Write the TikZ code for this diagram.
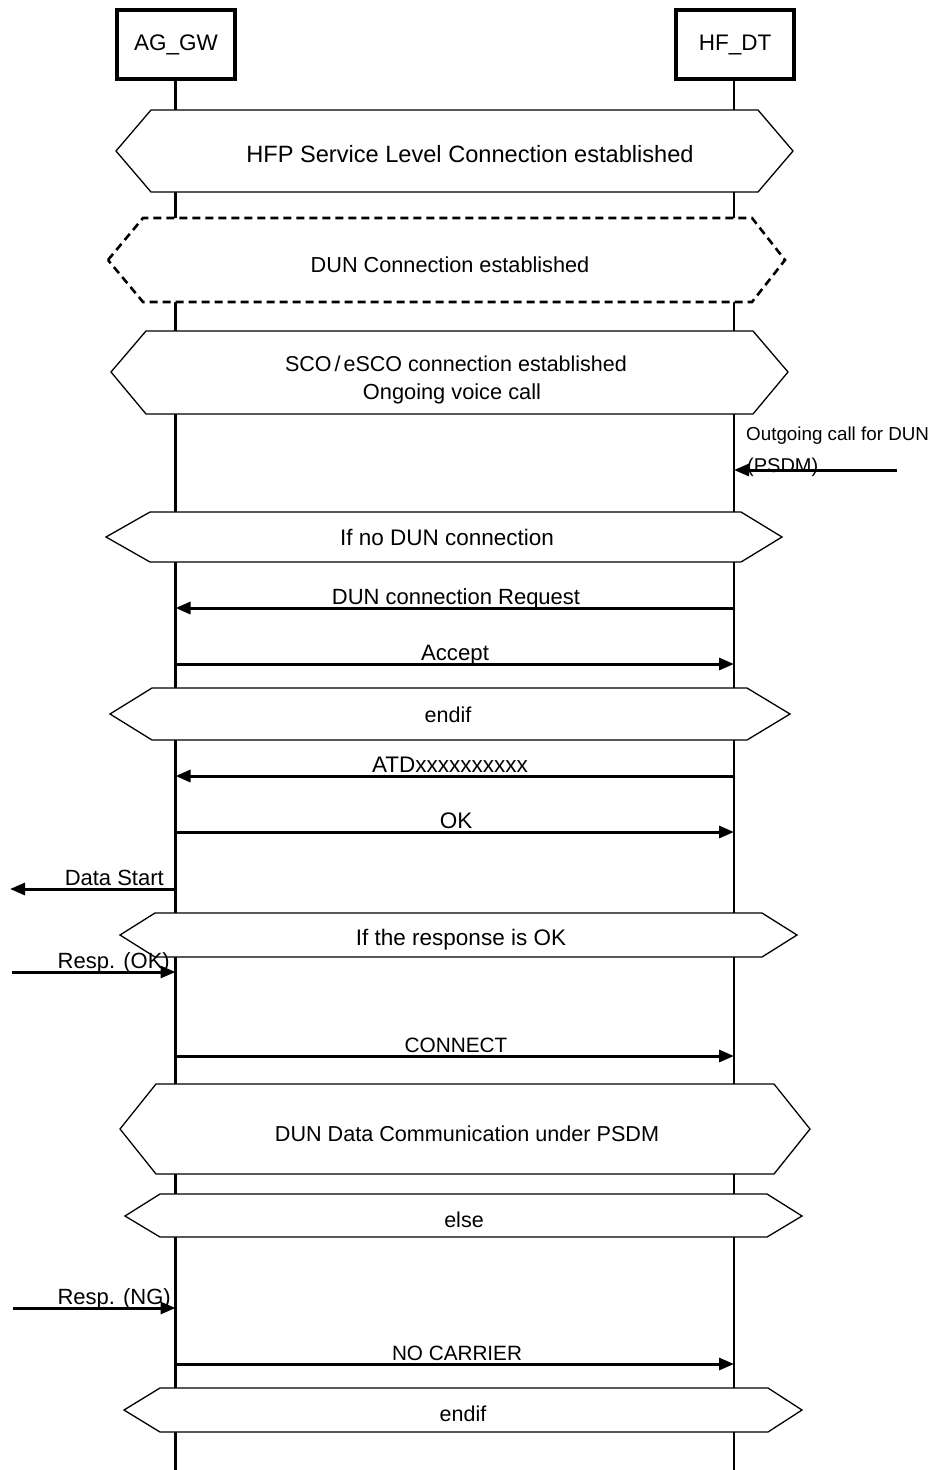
\documentclass[tikz,border=0pt]{standalone}
\usepackage{fontspec}
\setmainfont{Liberation Sans}
\usetikzlibrary{arrows.meta}
\newcommand\fsz[1]{\fontsize{#1}{#1}\selectfont}
\begin{document}
\begin{tikzpicture}[x=1pt,y=-1pt,
  actor/.style={draw,line width=4pt,minimum width=118pt,minimum height=69pt,inner sep=0pt,font=\fsz{22.5}},
  life/.style={line width=2.6pt},
  hexa/.style={draw,line width=1.3pt,fill=white,line join=miter},
  dhexa/.style={draw,line width=2.6pt,fill=white,dash pattern=on 8pt off 5pt},
  msg/.style={line width=3pt,-{Triangle[length=15pt,width=12pt]}},
  lbl/.style={anchor=base,font=\fsz{22.5},inner sep=0pt},
  slbl/.style={anchor=base west,font=\fsz{18.8},inner sep=0pt},
  rlbl/.style={anchor=base east,font=\fsz{22},inner sep=0pt}
]
\useasboundingbox (0,0) rectangle (933,1470);
% actors
\node[actor] (ag) at (176,44.5) {AG\_GW};
\node[actor] (hf) at (735,44.5) {HF\_DT};
\coordinate (agend) at (175.5,1470);
\coordinate (hfend) at (734,1470);
\draw[life] (ag.south) ++(-0.5,0) -- (agend);
\draw[life] (hf.south) ++(-1,0) -- (hfend);

% hexagons
\draw[hexa] (116,151) -- (151,110) -- (758,110) -- (793,151) -- (758,192) -- (151,192) -- cycle;
\node[lbl,font=\fsz{23.6}] (t1) at (470,162) {HFP Service Level Connection established};

\draw[dhexa] (108,260) -- (143,218) -- (752,218) -- (785,260) -- (752,302) -- (143,302) -- cycle;
\node[lbl,font=\fsz{21.7}] (t2) at (450,272) {DUN Connection established};

\draw[hexa] (111,372) -- (146,331) -- (753,331) -- (788,372) -- (753,414) -- (146,414) -- cycle;
\node[lbl,font=\fsz{21.5}] (t3a) at (456,371) {SCO\kern3pt/\kern3pt eSCO connection established};
\node[lbl,font=\fsz{21.8}] (t3b) at (452,399) {Ongoing voice call};

% outgoing call
\coordinate (ext1) at (897,470);
\coordinate (hf1) at (734,470);
\draw[msg] (ext1) -- (hf1);
\node[slbl] (o1) at (746,440) {Outgoing call for DUN};
\node[slbl,font=\fsz{20}] (o2) at (747,472) {(PSDM)};

\draw[hexa] (106,537) -- (150,512) -- (741,512) -- (782,537) -- (741,562) -- (150,562) -- cycle;
\node[lbl] (t4) at (447,545) {If no DUN connection};

\coordinate (hf2) at (734,608); \coordinate (ag2) at (175.5,608);
\draw[msg] (hf2) -- (ag2);
\node[lbl,font=\fsz{22}] (m2) at (456,604) {DUN connection Request};

\coordinate (ag3) at (175.5,664); \coordinate (hf3) at (734,664);
\draw[msg] (ag3) -- (hf3);
\node[lbl,font=\fsz{22.2}] (m3) at (455,660) {Accept};

\draw[hexa] (110,714) -- (152,688) -- (747,688) -- (790,714) -- (747,740) -- (152,740) -- cycle;
\node[lbl,font=\fsz{21.5}] (t5) at (448,722) {endif};

\coordinate (hf4) at (734,776); \coordinate (ag4) at (175.5,776);
\draw[msg] (hf4) -- (ag4);
\node[lbl] (m4) at (450,772) {ATDxxxxxxxxxx};

\coordinate (ag5) at (175.5,832); \coordinate (hf5) at (734,832);
\draw[msg] (ag5) -- (hf5);
\node[lbl] (m5) at (456,828) {OK};

\coordinate (ag6) at (175.5,889); \coordinate (ext6) at (10,889);
\draw[msg] (ag6) -- (ext6);
\node[rlbl] (m6) at (164,885.5) {Data Start};

\draw[hexa] (120,935) -- (155,913) -- (762,913) -- (797,935) -- (762,957) -- (155,957) -- cycle;
\node[lbl] (t6) at (461,945) {If the response is OK};

\coordinate (ext7) at (12,972); \coordinate (ag7) at (175.5,972);
\draw[msg] (ext7) -- (ag7);
\node[rlbl] (m7) at (170,968) {Resp. (OK)};

\coordinate (ag8) at (175.5,1056); \coordinate (hf8) at (734,1056);
\draw[msg] (ag8) -- (hf8);
\node[lbl,font=\fsz{20.8}] (m8) at (456,1052) {CONNECT};

\draw[hexa] (120,1129) -- (156,1084) -- (774,1084) -- (810,1129) -- (774,1174) -- (156,1174) -- cycle;
\node[lbl,font=\fsz{21.6}] (t7) at (467,1141) {DUN Data Communication under PSDM};

\draw[hexa] (125,1216) -- (160,1194) -- (767,1194) -- (802,1216) -- (767,1237) -- (160,1237) -- cycle;
\node[lbl,font=\fsz{21.5}] (t8) at (464,1227) {else};

\coordinate (ext9) at (13,1308); \coordinate (ag9) at (175.5,1308);
\draw[msg] (ext9) -- (ag9);
\node[rlbl] (m9) at (171,1304) {Resp. (NG)};

\coordinate (ag10) at (175.5,1364); \coordinate (hf10) at (734,1364);
\draw[msg] (ag10) -- (hf10);
\node[lbl,font=\fsz{20.7}] (m10) at (457,1360) {NO CARRIER};

\draw[hexa] (124,1410) -- (160,1388) -- (768,1388) -- (802,1410) -- (768,1432) -- (160,1432) -- cycle;
\node[lbl,font=\fsz{21.5}] (t9) at (463,1421) {endif};
\end{tikzpicture}
\end{document}
